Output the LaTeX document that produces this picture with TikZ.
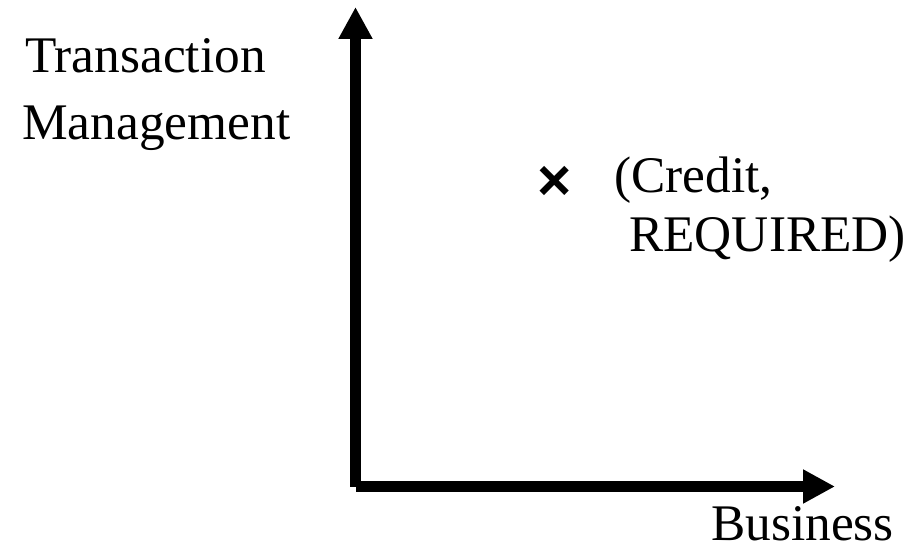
\documentclass[tikz,border=0pt]{standalone}
\usepackage{fontspec}
\setmainfont{Liberation Serif}
\newfontfamily\crossfont{Liberation Sans}
\usetikzlibrary{arrows.meta}
\begin{document}
\begin{tikzpicture}[x=0.75pt,y=-0.75pt,
  axis/.style={line width=8.25pt,-{Triangle[length=24pt,width=24pt]}},
  label/.style={inner sep=0pt,anchor=base west,font=\fontsize{38.5}{46}\selectfont},
  marker/.style={inner sep=0pt,font=\crossfont\bfseries\fontsize{44}{50}\selectfont}]
  \useasboundingbox (0,0) rectangle (915,545);
  % axes
  \coordinate (O) at (355.5,487);
  \coordinate (Top) at (355.5,7);
  \coordinate (Right) at (835,486.5);
  \coordinate (Hstart) at (356,486.5);
  \draw[axis] (O) -- (Top);
  \draw[axis] (Hstart) -- (Right);
  % axis labels
  \node[label] (tm1) at (25,73) {Transaction};
  \node[label] (tm2) at (22,140) {Management};
  \node[label] (biz) at (711,541) {Business};
  % plotted point
  \node[marker] (pt) at (555,183) {×};
  \node[label] (c1) at (614,193) {(Credit,};
  \node[label] (c2) at (629,252) {REQUIRED)};
\end{tikzpicture}
\end{document}
